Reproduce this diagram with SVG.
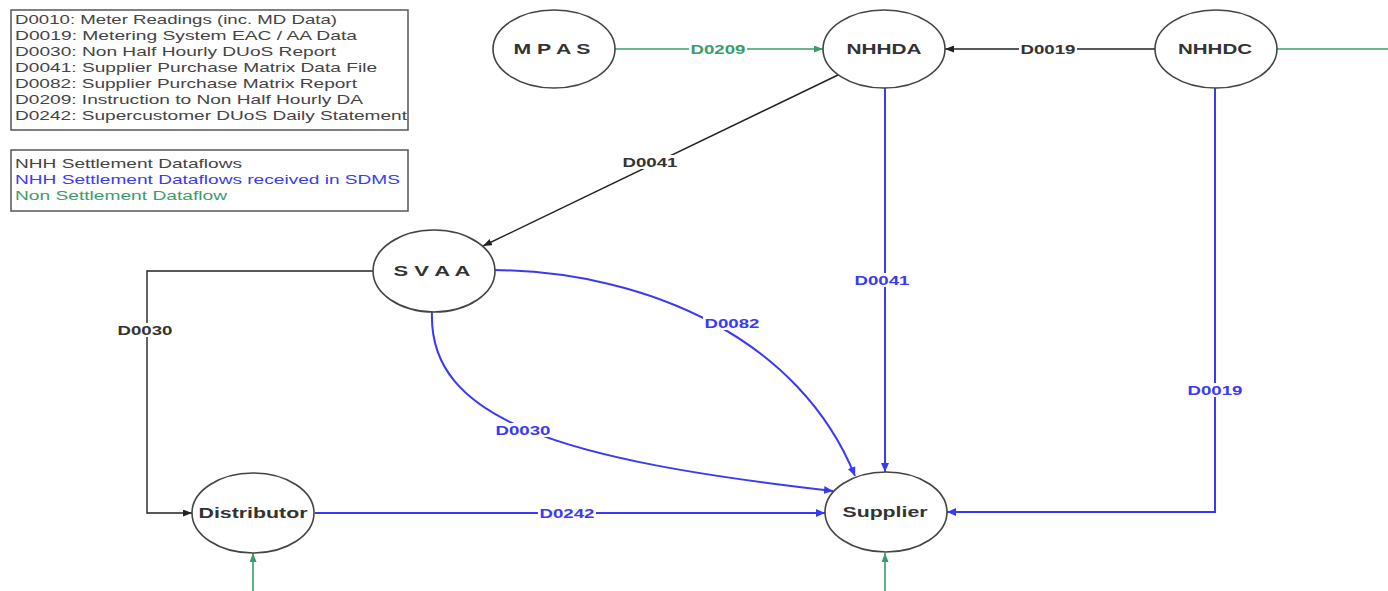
<svg xmlns="http://www.w3.org/2000/svg" width="1388" height="591" viewBox="0 0 1388 591">
<style>
  text { font-family: "Liberation Sans", Arial, sans-serif; }
  .leg { font-size: 13px; fill: #444; }
  .legb { font-size: 13px; fill: #3c3cf0; }
  .legg { font-size: 13px; fill: #3c9c6c; }
  .box { fill: #fff; stroke: #555; stroke-width: 1.5; }
  .node ellipse { fill: #fff; stroke: #444; stroke-width: 1.6; }
  .node text { font-size: 14px; font-weight: bold; fill: #333; text-anchor: middle; }
  .k { fill: none; stroke: #222; stroke-width: 1.4; }
  .b { fill: none; stroke: #3a3af5; stroke-width: 2; }
  .g { fill: none; stroke: #3a9c6c; stroke-width: 1.6; }
  .lbl { font-size: 12px; font-weight: bold; text-anchor: middle; }
  .lk { fill: #333; }
  .lb { fill: #3a3af5; }
  .lg { fill: #3a9c6c; }
  .bg { fill: #fff; }
</style>
<defs>
  <marker id="ak" markerWidth="9" markerHeight="7" refX="9" refY="3.5" orient="auto" markerUnits="userSpaceOnUse"><path d="M0,0 L9,3.5 L0,7 Z" fill="#222"/></marker>
  <marker id="ab" markerWidth="9" markerHeight="8" refX="9" refY="4" orient="auto" markerUnits="userSpaceOnUse"><path d="M0,0 L9,4 L0,8 Z" fill="#3a3af5"/></marker>
  <marker id="ag" markerWidth="9" markerHeight="7" refX="9" refY="3.5" orient="auto" markerUnits="userSpaceOnUse"><path d="M0,0 L9,3.5 L0,7 Z" fill="#3a9c6c"/></marker>
</defs>
<rect width="1388" height="591" fill="#fff"/>

<g id="legend-codes">
  <rect class="box" x="11" y="10" width="397" height="120"/>
  <text class="leg" x="15" y="24" textLength="322" lengthAdjust="spacingAndGlyphs">D0010: Meter Readings (inc. MD Data)</text>
  <text class="leg" x="15" y="40" textLength="342" lengthAdjust="spacingAndGlyphs">D0019: Metering System EAC / AA Data</text>
  <text class="leg" x="15" y="56" textLength="321" lengthAdjust="spacingAndGlyphs">D0030: Non Half Hourly DUoS Report</text>
  <text class="leg" x="15" y="72" textLength="362" lengthAdjust="spacingAndGlyphs">D0041: Supplier Purchase Matrix Data File</text>
  <text class="leg" x="15" y="88" textLength="342" lengthAdjust="spacingAndGlyphs">D0082: Supplier Purchase Matrix Report</text>
  <text class="leg" x="15" y="104" textLength="348" lengthAdjust="spacingAndGlyphs">D0209: Instruction to Non Half Hourly DA</text>
  <text class="leg" x="15" y="120" textLength="392" lengthAdjust="spacingAndGlyphs">D0242: Supercustomer DUoS Daily Statement</text>
</g>

<g id="legend-colours">
  <rect class="box" x="11" y="150" width="397" height="61"/>
  <text class="leg" x="15" y="168" textLength="227" lengthAdjust="spacingAndGlyphs">NHH Settlement Dataflows</text>
  <text class="legb" x="15" y="184" textLength="385" lengthAdjust="spacingAndGlyphs">NHH Settlement Dataflows received in SDMS</text>
  <text class="legg" x="15" y="200" textLength="212" lengthAdjust="spacingAndGlyphs">Non Settlement Dataflow</text>
</g>

<g id="connectors">
  <!-- MPAS -> NHHDA -->
  <line class="g" x1="615" y1="49" x2="823" y2="49" marker-end="url(#ag)"/>
  <!-- NHHDC -> NHHDA -->
  <line class="k" x1="1155" y1="49" x2="945" y2="49" marker-end="url(#ak)"/>
  <!-- NHHDC outgoing green -->
  <line class="g" x1="1277" y1="49" x2="1388" y2="49"/>
  <!-- NHHDA -> SVAA -->
  <line class="k" x1="838" y1="75" x2="483" y2="246" marker-end="url(#ak)"/>
  <!-- NHHDA -> Supplier -->
  <line class="b" x1="885" y1="88" x2="885" y2="472" marker-end="url(#ab)"/>
  <!-- NHHDC -> Supplier -->
  <path class="b" d="M1215,88 V512 H947" marker-end="url(#ab)"/>
  <!-- SVAA -> Distributor -->
  <path class="k" d="M373,271 H147 V513 H192" marker-end="url(#ak)"/>
  <!-- SVAA -> Supplier D0082 -->
  <path class="b" d="M495,270 C650,272 800,340 855,476" marker-end="url(#ab)"/>
  <!-- SVAA -> Supplier D0030 -->
  <path class="b" d="M432,312 C428,420 560,460 833,491" marker-end="url(#ab)"/>
  <!-- Distributor -> Supplier -->
  <line class="b" x1="315" y1="513" x2="825" y2="513" marker-end="url(#ab)"/>
  <!-- incoming green from below -->
  <line class="g" x1="253" y1="591" x2="253" y2="553" marker-end="url(#ag)"/>
  <line class="g" x1="885" y1="591" x2="885" y2="553" marker-end="url(#ag)"/>

  <!-- labels -->
  <rect class="bg" x="689" y="42" width="58" height="14"/>
  <text class="lbl lg" x="718" y="53.5" textLength="55" lengthAdjust="spacingAndGlyphs">D0209</text>
  <rect class="bg" x="1019" y="42" width="58" height="14"/>
  <text class="lbl lk" x="1048" y="53.5" textLength="55" lengthAdjust="spacingAndGlyphs">D0019</text>
  <rect class="bg" x="621" y="155" width="58" height="14"/>
  <text class="lbl lk" x="650" y="166.5" textLength="55" lengthAdjust="spacingAndGlyphs">D0041</text>
  <rect class="bg" x="853" y="273" width="58" height="14"/>
  <text class="lbl lb" x="882" y="284.5" textLength="55" lengthAdjust="spacingAndGlyphs">D0041</text>
  <rect class="bg" x="703" y="316" width="58" height="14"/>
  <text class="lbl lb" x="732" y="327.5" textLength="55" lengthAdjust="spacingAndGlyphs">D0082</text>
  <rect class="bg" x="494" y="423" width="58" height="14"/>
  <text class="lbl lb" x="523" y="434.5" textLength="55" lengthAdjust="spacingAndGlyphs">D0030</text>
  <rect class="bg" x="116" y="323" width="58" height="14"/>
  <text class="lbl lk" x="145" y="334.5" textLength="55" lengthAdjust="spacingAndGlyphs">D0030</text>
  <rect class="bg" x="1186" y="383" width="58" height="14"/>
  <text class="lbl lb" x="1215" y="394.5" textLength="55" lengthAdjust="spacingAndGlyphs">D0019</text>
  <rect class="bg" x="538" y="506" width="58" height="14"/>
  <text class="lbl lb" x="567" y="517.5" textLength="55" lengthAdjust="spacingAndGlyphs">D0242</text>
</g>

<g id="MPAS" class="node">
  <ellipse cx="554" cy="49" rx="61" ry="39"/>
  <text x="552" y="54" textLength="77" lengthAdjust="spacingAndGlyphs">M P A S</text>
</g>
<g id="NHHDA" class="node">
  <ellipse cx="884" cy="49" rx="61" ry="39"/>
  <text x="884" y="54" textLength="75" lengthAdjust="spacingAndGlyphs">NHHDA</text>
</g>
<g id="NHHDC" class="node">
  <ellipse cx="1216" cy="49" rx="61" ry="39"/>
  <text x="1215" y="54" textLength="74" lengthAdjust="spacingAndGlyphs">NHHDC</text>
</g>
<g id="SVAA" class="node">
  <ellipse cx="434" cy="271" rx="61" ry="41"/>
  <text x="432" y="276" textLength="77" lengthAdjust="spacingAndGlyphs">S V A A</text>
</g>
<g id="Distributor" class="node">
  <ellipse cx="253" cy="513" rx="61" ry="40"/>
  <text x="253" y="518" textLength="109" lengthAdjust="spacingAndGlyphs">Distributor</text>
</g>
<g id="Supplier" class="node">
  <ellipse cx="886" cy="512" rx="61" ry="40"/>
  <text x="885" y="517" textLength="85" lengthAdjust="spacingAndGlyphs">Supplier</text>
</g>
</svg>
